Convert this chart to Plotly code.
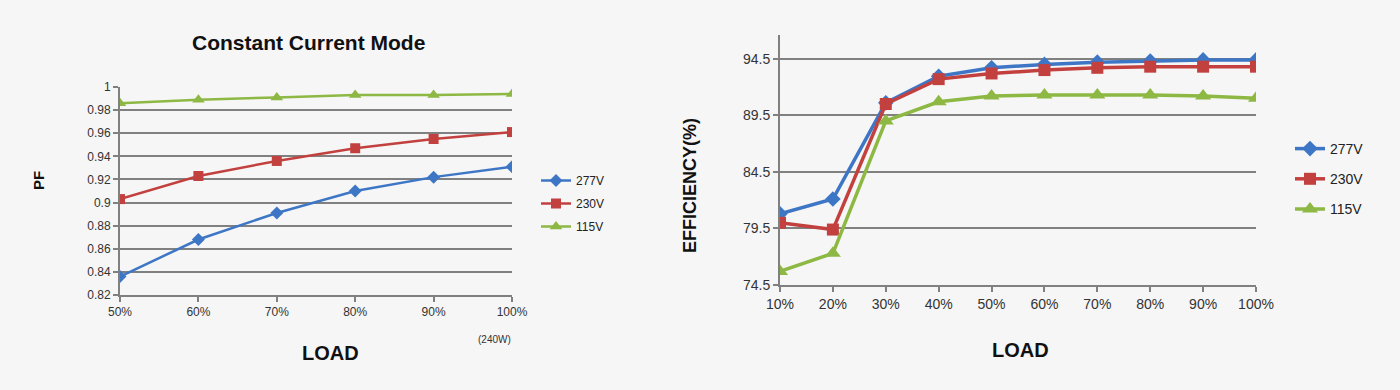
import plotly.graph_objects as go

# ---- data ----
pf_load = ["50%", "60%", "70%", "80%", "90%", "100%"]
pf_277 = [0.836, 0.868, 0.891, 0.910, 0.922, 0.931]
pf_230 = [0.903, 0.923, 0.936, 0.947, 0.955, 0.961]
pf_115 = [0.986, 0.989, 0.991, 0.993, 0.993, 0.994]

eff_load = ["10%", "20%", "30%", "40%", "50%", "60%", "70%", "80%", "90%", "100%"]
eff_277 = [80.8, 82.1, 90.6, 92.95, 93.7, 94.0, 94.2, 94.3, 94.4, 94.4]
eff_230 = [80.0, 79.4, 90.5, 92.7, 93.2, 93.5, 93.7, 93.8, 93.8, 93.8]
eff_115 = [75.7, 77.3, 89.0, 90.7, 91.2, 91.3, 91.3, 91.3, 91.2, 91.0]

pf_ticks = [0.82, 0.84, 0.86, 0.88, 0.9, 0.92, 0.94, 0.96, 0.98, 1]
pf_ticktext = ["0.82", "0.84", "0.86", "0.88", "0.9", "0.92", "0.94", "0.96", "0.98", "1"]
eff_ticks = [74.5, 79.5, 84.5, 89.5, 94.5]

series_names = ["277V", "230V", "115V"]
colors = ["#3E76C6", "#C2413F", "#8DB843"]
symbols = ["diamond", "square", "triangle-up"]

W, H = 1400, 390
BG = "#F6F6F6"
GRID = "#808080"
FONT = "Liberation Sans"

fig = go.Figure()

for name, ys, c, s in zip(series_names, [pf_277, pf_230, pf_115], colors, symbols):
    fig.add_trace(go.Scatter(
        x=pf_load, y=ys, name=name, mode="lines+markers",
        line=dict(color=c, width=2.5),
        marker=dict(symbol=s, size=10 if s != "triangle-up" else 11, color=c),
        xaxis="x", yaxis="y", legend="legend", legendgroup="l" + name,
    ))

for name, ys, c, s in zip(series_names, [eff_277, eff_230, eff_115], colors, symbols):
    fig.add_trace(go.Scatter(
        x=eff_load, y=ys, name=name, mode="lines+markers",
        line=dict(color=c, width=3.5),
        marker=dict(symbol=s, size=12 if s != "triangle-up" else 14, color=c),
        xaxis="x2", yaxis="y2", legend="legend2", legendgroup="r" + name,
    ))

def px_x(p):
    return p / W

def px_y(p):
    return 1 - p / H

axis_common = dict(showline=True, linecolor=GRID, linewidth=2,
                   ticks="outside", tickcolor=GRID, tickwidth=2, ticklen=5,
                   zeroline=False, fixedrange=True, automargin=False)

fig.update_layout(
    width=W, height=H,
    margin=dict(l=0, r=0, t=0, b=0, autoexpand=False),
    paper_bgcolor=BG, plot_bgcolor=BG,
    font=dict(family=FONT, color="#222222"),
    xaxis=dict(domain=[px_x(120), px_x(512)], anchor="y", type="category",
               range=[0, len(pf_load) - 1], showgrid=False,
               tickfont=dict(size=12, color="#333333"), **axis_common),
    yaxis=dict(domain=[px_y(295), px_y(87)], anchor="x", range=[0.82, 1.0],
               tickvals=pf_ticks, ticktext=pf_ticktext,
               showgrid=True, gridcolor=GRID, gridwidth=2,
               tickfont=dict(size=12, color="#333333"), **axis_common),
    xaxis2=dict(domain=[px_x(780), px_x(1256)], anchor="y2", type="category",
                range=[0, len(eff_load) - 1], showgrid=False,
                tickfont=dict(size=14, color="#333333"), **axis_common),
    yaxis2=dict(domain=[px_y(285), px_y(35)], anchor="x2", range=[74.5, 96.6],
                tickvals=eff_ticks, ticktext=[str(t) for t in eff_ticks],
                showgrid=True, gridcolor=GRID, gridwidth=2,
                tickfont=dict(size=14, color="#333333"), **axis_common),
    legend=dict(x=px_x(536), y=px_y(166), xanchor="left", yanchor="top",
                bgcolor="rgba(0,0,0,0)", font=dict(size=12, color="#222222"),
                tracegroupgap=4, itemwidth=30),
    legend2=dict(x=px_x(1290), y=px_y(133), xanchor="left", yanchor="top",
                 bgcolor="rgba(0,0,0,0)", font=dict(size=14, color="#222222"),
                 tracegroupgap=9, itemwidth=30),
    annotations=[
        dict(text="<b>Constant Current Mode</b>", x=px_x(308), y=px_y(42),
             xanchor="center", yanchor="middle",
             xref="paper", yref="paper", showarrow=False,
             font=dict(size=21, family=FONT, color="#111111")),
        dict(text="<b>PF</b>", x=px_x(38), y=px_y(181), xref="paper", yref="paper",
             xanchor="center", yanchor="middle",
             showarrow=False, textangle=-90, font=dict(size=15, color="#111111")),
        dict(text="<b>LOAD</b>", x=px_x(330), y=px_y(353), xref="paper", yref="paper",
             xanchor="center", yanchor="middle",
             showarrow=False, font=dict(size=20, color="#111111")),
        dict(text="(240W)", x=px_x(494), y=px_y(339), xref="paper", yref="paper",
             xanchor="center", yanchor="middle",
             showarrow=False, font=dict(size=10, color="#333333")),
        dict(text="<b>EFFICIENCY(%)</b>", x=px_x(690), y=px_y(186), xref="paper", yref="paper",
             xanchor="center", yanchor="middle",
             showarrow=False, textangle=-90, font=dict(size=18, color="#111111")),
        dict(text="<b>LOAD</b>", x=px_x(1020), y=px_y(350), xref="paper", yref="paper",
             xanchor="center", yanchor="middle",
             showarrow=False, font=dict(size=20, color="#111111")),
    ],
)

fig.write_html(
    "out.html",
    config={"displayModeBar": False},
    post_script="document.body.style.margin='0';document.body.style.overflow='hidden';",
)
